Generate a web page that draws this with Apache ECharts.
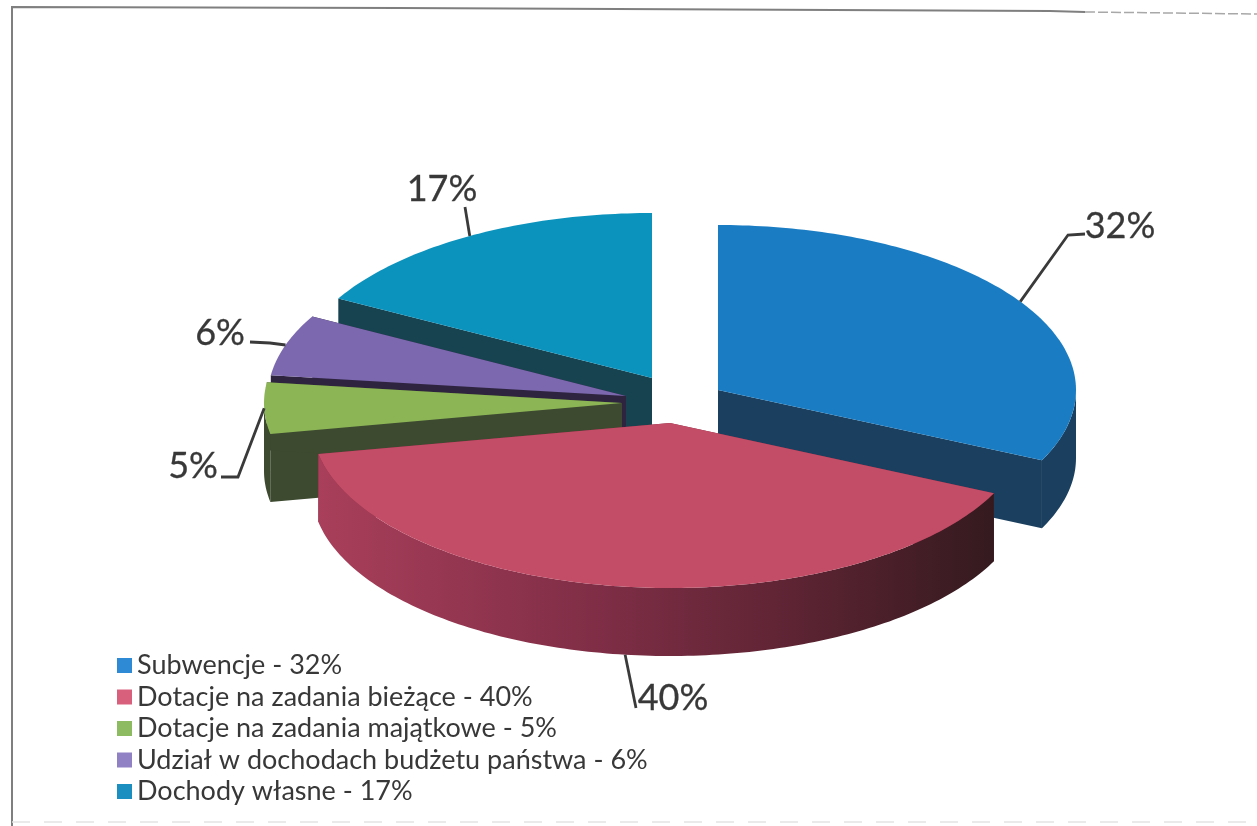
<!DOCTYPE html>
<html>
<head>
<meta charset="utf-8">
<style>html,body{margin:0;padding:0;background:#fff}#c{width:1257px;height:826px}</style>
<script src="https://cdn.jsdelivr.net/npm/echarts@6/dist/echarts.min.js"></script>
</head>
<body>
<div id="c"></div>
<script>
// ---- data ----
const categories = ['Subwencje', 'Dotacje na zadania bieżące', 'Dotacje na zadania majątkowe', 'Udział w dochodach budżetu państwa', 'Dochody własne'];
const shares = [32, 40, 5, 6, 17];

// ---- styling / projection ----
const topColors = ['#1a7dc4', '#c34c66', '#8cb556', '#7b68ae', '#0c93bd'];
const legendColors = ['#2f8ad6', '#d9607c', '#8dbb62', '#9080c4', '#1a8fc0'];
const wallColors = ['#1b3f5f', '#7a2a42', '#3d4a30', '#2f2440', '#17424f'];
const apexes = [[718, 390], [670, 423], [622, 403], [626, 396], [652, 378]];
const zOrder = [4, 5, 3, 2, 1];
const RX = 358, RY = 165, DEPTH = 68;
const FONT = 'Lato, sans-serif';
const TEXT = '#383838';
// label centre and leader elbows per slice
const labelPos = [[1120, 226], [673, 698], [193, 466], [220, 333], [442, 189]];
const leaderElbows = [
  [[1068, 235], [1085, 234]],
  [[636, 708]],
  [[238, 477], [221, 477]],
  [[270, 343], [250, 342]],
  [[465, 207]]
];

const total = shares.reduce((a, b) => a + b, 0);
const startAngles = [];
shares.reduce((acc, v, i) => { startAngles[i] = acc; return acc + v / total * 360; }, 0);

function rim(apex, deg, dy) {
  const r = deg * Math.PI / 180;
  return [apex[0] + RX * Math.sin(r), apex[1] - RY * Math.cos(r) + (dy || 0)];
}
function arc(apex, from, to, dy) {
  const pts = [];
  const n = Math.max(2, Math.ceil(Math.abs(to - from)));
  for (let k = 0; k <= n; k++) pts.push(rim(apex, from + (to - from) * k / n, dy));
  return pts;
}
function makeRender(i) {
  return function () {
    const apex = apexes[i];
    const a0 = startAngles[i], a1 = a0 + shares[i] / total * 360;
    const children = [];
    const wall = wallColors[i];
    const low = [apex[0], apex[1] + DEPTH];
    // radial cut walls
    [a0, a1].forEach(function (a) {
      const p = rim(apex, a), q = rim(apex, a, DEPTH);
      children.push({ type: 'polygon', shape: { points: [apex, p, q, low] }, style: { fill: wall } });
    });
    // outer wall (front-facing part of the rim)
    const f0 = Math.max(a0, 90), f1 = Math.min(a1, 270);
    if (f1 > f0) {
      const pts = arc(apex, f0, f1, 0).concat(arc(apex, f1, f0, DEPTH));
      const fill = i === 1 ? {
        type: 'linear', x: 0, y: 0, x2: 1, y2: 0,
        colorStops: [{ offset: 0, color: '#a93f5a' }, { offset: 0.35, color: '#86304a' }, { offset: 0.7, color: '#5e2434' }, { offset: 1, color: '#341a1f' }]
      } : wall;
      children.push({ type: 'polygon', shape: { points: pts }, style: { fill: fill } });
    }
    // top surface
    children.push({ type: 'polygon', shape: { points: [apex].concat(arc(apex, a0, a1, 0)) }, style: { fill: topColors[i] } });
    // leader line and percentage label
    const mid = (a0 + a1) / 2;
    const anchor = rim(apex, mid, (mid > 90 && mid < 250) ? DEPTH : 0);
    children.push({ type: 'polyline', shape: { points: [anchor].concat(leaderElbows[i]) }, style: { stroke: '#3a3a3a', lineWidth: 2.8, fill: null } });
    children.push({ type: 'text', style: { text: shares[i] + '%', x: labelPos[i][0], y: labelPos[i][1], align: 'center', verticalAlign: 'middle', font: '400 36px ' + FONT, fill: TEXT, stroke: TEXT, lineWidth: 0.3 } });
    return { type: 'group', children: children };
  };
}

const names = categories.map((c, i) => c + ' - ' + shares[i] + '%');

const chart = echarts.init(document.getElementById('c'), null, { renderer: 'canvas' });
chart.setOption({
  animation: false,
  backgroundColor: '#fff',
  legend: {
    orient: 'vertical', left: 117, top: 652, padding: 0, itemWidth: 15, itemHeight: 15, itemGap: 4.5, icon: 'rect', itemStyle: { borderWidth: 0 },
    textStyle: { fontFamily: FONT, fontSize: 27, color: TEXT },
    selectedMode: false,
    data: names.map((n, i) => ({ name: n, itemStyle: { color: legendColors[i] } }))
  },
  series: names.map((n, i) => ({
    type: 'custom', name: n, coordinateSystem: 'none', z: zOrder[i] + 1,
    itemStyle: { color: topColors[i] }, silent: true,
    renderItem: makeRender(i), data: [[shares[i]]]
  })),
  graphic: [
    { type: 'polyline', silent: true, shape: { points: [[12, 826], [12, 7], [400, 8], [1050, 11], [1085, 12]] }, style: { stroke: '#7f7f7f', lineWidth: 2, fill: null } },
    { type: 'polyline', silent: true, shape: { points: [[1085, 12], [1257, 14]] }, style: { stroke: '#a8a8a8', lineWidth: 1.5, lineDash: [10, 3], fill: null } },
    { type: 'polyline', silent: true, shape: { points: [[12, 822], [1257, 822]] }, style: { stroke: '#e4e4e4', lineWidth: 1.5, lineDash: [18, 14], fill: null } }
  ]
});
</script>
</body>
</html>
